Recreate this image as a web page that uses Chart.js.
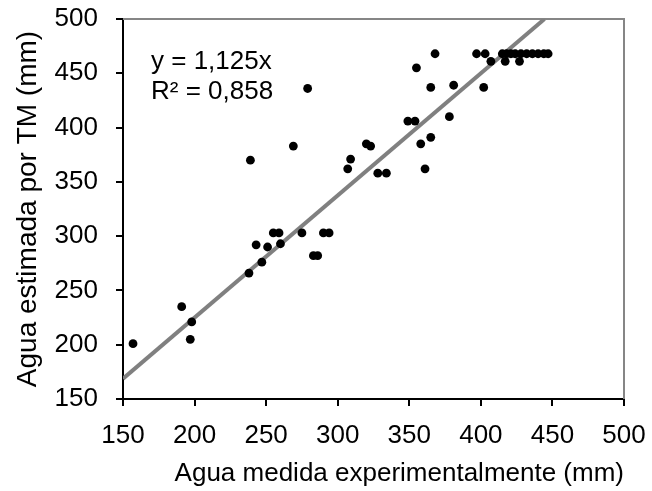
<!DOCTYPE html>
<html>
<head>
<meta charset="utf-8">
<script src="https://cdn.jsdelivr.net/npm/chart.js@4/dist/chart.umd.min.js"></script>
<style>
    html, body { margin: 0; padding: 0; background: #ffffff; }
    #wrap { width: 652px; height: 491px; }
</style>
</head>
<body>
<div id="wrap"><canvas id="scatterChart" width="652" height="491"></canvas></div>
<script>
// Datos: agua medida (x) vs agua estimada por TM (y), en mm
const aguaMedida = [
    157, 191, 198, 197, 238, 247, 243, 251, 255, 259,
    260, 239, 275, 279, 269, 283, 286, 290, 294, 307,
    309, 320, 323, 328, 334, 349, 354, 355, 358, 361,
    365, 365, 368, 378, 381, 397, 402, 403, 407, 415,
    417, 418, 421, 424, 427, 428, 432, 436, 440, 444,
    447
];
const aguaEstimada = [
    201, 235, 221, 205, 266, 276, 292, 290, 303, 303,
    293, 370, 303, 436, 383, 282, 282, 303, 303, 362,
    371, 385, 383, 358, 358, 406, 406, 455, 385, 362,
    391, 437, 468, 410, 439, 468, 437, 468, 461, 468,
    461, 468, 468, 468, 461, 468, 468, 468, 468, 468,
    468
];

// Línea de tendencia y = 1,125x (extremos dentro del área)
const pendiente = 1.125;
const tendenciaX = [150, 500 / pendiente];

// Ejes
const ejeMin = 150;
const ejeMax = 500;
const ejePaso = 50;

const ecuacion = ['y = 1,125x', 'R² = 0,858'];

const FONT = "'Liberation Sans', Arial, sans-serif";

const puntos = aguaMedida.map((x, i) => ({ x: x, y: aguaEstimada[i] }));
const tendencia = tendenciaX.map(x => ({ x: x, y: pendiente * x }));

// Quitar el relleno extra que Chart.js reserva para las etiquetas extremas
function sinRelleno(s, size) {
    if (s.isHorizontal()) s.height = size; else s.width = size;
    s.paddingTop = 0;
    s.paddingBottom = 0;
    s.paddingLeft = 0;
    s.paddingRight = 0;
}

// Borde gris arriba / derecha y texto de la ecuación
const extras = {
    id: 'extras',
    beforeDatasetsDraw(chart) {
        const { ctx, chartArea: a } = chart;
        ctx.save();
        ctx.strokeStyle = '#868686';
        ctx.lineWidth = 2;
        ctx.beginPath();
        ctx.moveTo(a.left, a.top);
        ctx.lineTo(a.right, a.top);
        ctx.lineTo(a.right, a.bottom);
        ctx.stroke();
        ctx.restore();
    },
    afterDraw(chart) {
        const { ctx } = chart;
        ctx.save();
        ctx.fillStyle = '#000000';
        ctx.font = '26px ' + FONT;
        ctx.textBaseline = 'alphabetic';
        ctx.textAlign = 'left';
        ctx.fillText(ecuacion[0], 151, 69);
        ctx.fillText(ecuacion[1], 151, 99);
        ctx.restore();
    }
};

const ctx = document.getElementById('scatterChart').getContext('2d');

new Chart(ctx, {
    type: 'scatter',
    data: {
        datasets: [
            {
                label: 'Datos',
                data: puntos,
                backgroundColor: '#000000',
                borderColor: '#000000',
                pointRadius: 4.4,
                pointBorderWidth: 0,
                order: 0
            },
            {
                label: 'Tendencia',
                type: 'line',
                data: tendencia,
                borderColor: '#808080',
                borderWidth: 4,
                pointRadius: 0,
                fill: false,
                order: 1
            }
        ]
    },
    options: {
        responsive: false,
        animation: false,
        layout: { padding: { top: 19, right: 28, left: 0, bottom: 0 } },
        plugins: {
            legend: { display: false },
            tooltip: { enabled: false }
        },
        scales: {
            x: {
                type: 'linear',
                min: ejeMin,
                max: ejeMax,
                afterFit: s => sinRelleno(s, 92),
                ticks: {
                    stepSize: ejePaso,
                    color: '#000000',
                    padding: 14,
                    maxRotation: 0,
                    font: { size: 26, family: FONT }
                },
                grid: { drawOnChartArea: false, drawTicks: true, tickLength: 7, color: '#000000', lineWidth: 2 },
                border: { color: '#000000', width: 2 },
                title: {
                    display: true,
                    text: 'Agua medida experimentalmente (mm)',
                    align: 'end',
                    color: '#000000',
                    padding: { top: 0, bottom: 2 },
                    font: { size: 26, family: FONT }
                }
            },
            y: {
                type: 'linear',
                min: ejeMin,
                max: ejeMax,
                afterFit: s => sinRelleno(s, 123),
                ticks: {
                    stepSize: ejePaso,
                    color: '#000000',
                    padding: 18,
                    font: { size: 26, family: FONT }
                },
                grid: { drawOnChartArea: false, drawTicks: true, tickLength: 7, color: '#000000', lineWidth: 2 },
                border: { color: '#000000', width: 2 },
                title: {
                    display: true,
                    text: 'Agua estimada por TM (mm)',
                    color: '#000000',
                    padding: { top: 11, bottom: 0 },
                    font: { size: 28, family: FONT }
                }
            }
        }
    },
    plugins: [extras]
});
</script>
</body>
</html>
